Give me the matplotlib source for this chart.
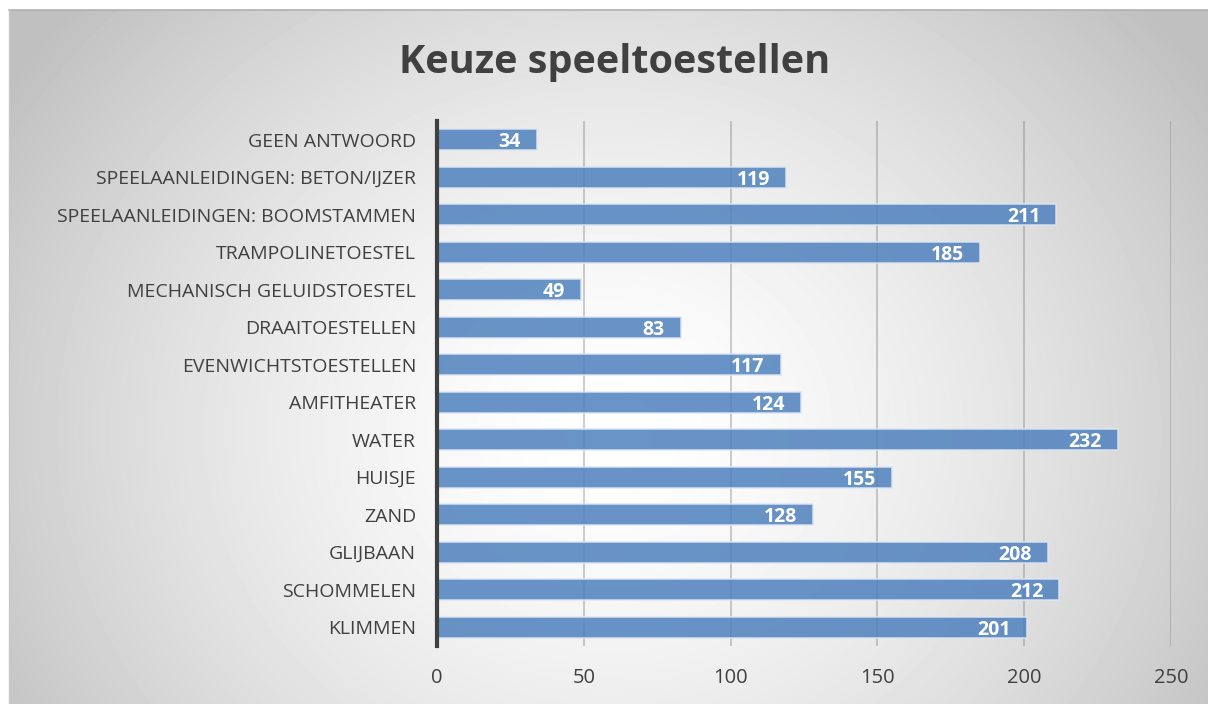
import numpy as np
import matplotlib.pyplot as plt

CATEGORIES = [
    "KLIMMEN", "SCHOMMELEN", "GLIJBAAN", "ZAND", "HUISJE", "WATER",
    "AMFITHEATER", "EVENWICHTSTOESTELLEN", "DRAAITOESTELLEN",
    "MECHANISCH GELUIDSTOESTEL", "TRAMPOLINETOESTEL",
    "SPEELAANLEIDINGEN: BOOMSTAMMEN", "SPEELAANLEIDINGEN: BETON/IJZER",
    "GEEN ANTWOORD",
]
VALUES = [201, 212, 208, 128, 155, 232, 124, 117, 83, 49, 185, 211, 119, 34]
X_TICKS = [0, 50, 100, 150, 200, 250]

TITLE = "Keuze speeltoestellen"
BAR_COLOR = "#4f81bd"
TEXT_COLOR = "#404040"
FONT = "Open Sans"

W, H = 1208, 704
fig = plt.figure(figsize=(W / 100, H / 100), dpi=100, facecolor="white")

# radial gradient background for the chart area
bg = fig.add_axes([9 / W, 0, 1 - 9 / W, 1 - 10 / H], zorder=0)
yy, xx = np.mgrid[0:694, 0:1199]
r = np.hypot((xx - 600) / 720, (yy - 420) / 640)
shade = 1.0 - 0.25 * np.clip(r, 0, 1) ** 1.5
bg.imshow(shade, cmap="gray", vmin=0, vmax=1, aspect="auto", interpolation="bilinear")
bg.set_axis_off()
fig.add_artist(plt.Line2D([9 / W, 1], [1 - 10 / H, 1 - 10 / H],
                          transform=fig.transFigure, color="#b0b0b0", lw=1.2))
fig.add_artist(plt.Line2D([9 / W, 9 / W], [0, 1 - 10 / H],
                          transform=fig.transFigure, color="#c8c8c8", lw=1))

ax = fig.add_axes([437 / W, 1 - 646 / H, (1171 - 437) / W, (646 - 121) / H], zorder=1)
ax.patch.set_alpha(0)

y = np.arange(len(CATEGORIES))
ax.barh(y, VALUES, height=0.57, color=BAR_COLOR, alpha=0.85,
        edgecolor="#dce6f2", linewidth=1.2, zorder=3)
for yi, v in zip(y, VALUES):
    ax.text(v - 5.5, yi - 0.2, str(v), ha="right", va="baseline", color="white",
            fontsize=14, fontweight="bold", family=FONT, zorder=4)

ax.set_xlim(0, 250)
ax.set_ylim(-0.5, len(CATEGORIES) - 0.5)
ax.set_xticks(X_TICKS)
ax.set_yticks(y)
ax.set_yticklabels(CATEGORIES)
ax.grid(axis="x", color="#808080", alpha=0.5, linewidth=1.1, zorder=1)
ax.set_axisbelow(True)
for s in ["top", "right", "bottom"]:
    ax.spines[s].set_visible(False)
ax.spines["left"].set_color("#404040")
ax.spines["left"].set_linewidth(3)
ax.spines["left"].set_zorder(5)
ax.tick_params(axis="both", length=0, labelcolor=TEXT_COLOR)
ax.tick_params(axis="x", pad=16, labelsize=14.5)
ax.tick_params(axis="y", pad=15, labelsize=14)
for lab in ax.get_xticklabels() + ax.get_yticklabels():
    lab.set_family(FONT)

fig.text(615 / W, 1 - 62 / H, TITLE, ha="center", va="center", fontsize=28.5,
         fontweight="bold", color=TEXT_COLOR, family=FONT)

fig.savefig("out.png", dpi=100)
